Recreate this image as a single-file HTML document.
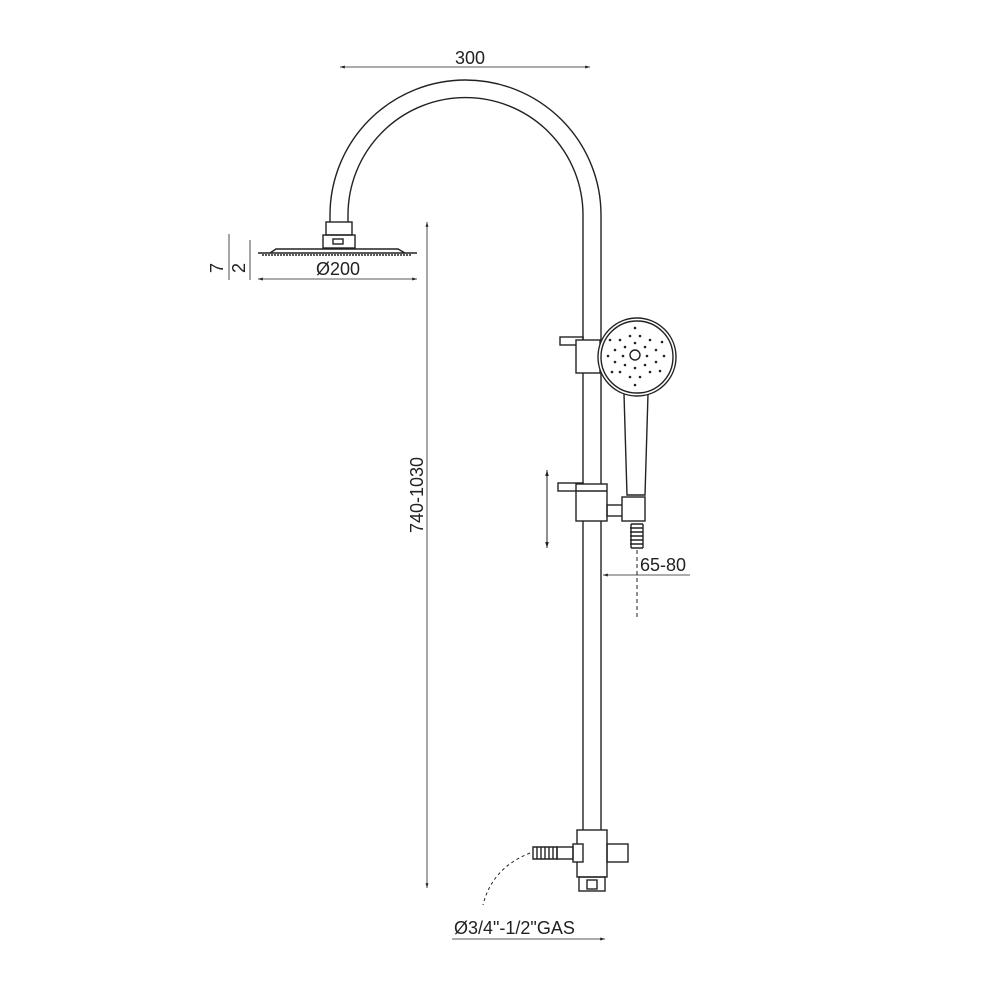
<!DOCTYPE html>
<html><head><style>body{margin:0;background:#fff}svg{display:block}text{font-family:"Liberation Sans",sans-serif;fill:#222}</style></head><body>
<svg width="990" height="990" viewBox="0 0 990 990" fill="none" stroke="#222" stroke-width="1.4">
<defs><marker id="a" viewBox="0 0 10 10" refX="10" refY="5" markerWidth="8" markerHeight="6" orient="auto-start-reverse"><path d="M0,2L10,5L0,8" fill="#222" stroke="none"/></marker></defs>
<path d="M330,222 V215 A135.5,135 0 0 1 601,215 V830"/>
<path d="M348,222 V215 A117.5,117.5 0 0 1 583,215 V830"/>
<rect x="326" y="222" width="26" height="13"/>
<rect x="323" y="235" width="32" height="13"/>
<rect x="333" y="239" width="10" height="5"/>
<path d="M258,253 H417 M270,253 L276,249 H398 L405,253"/>
<path d="M262,255 H412" stroke-dasharray="2 1" stroke-width="1.5"/>
<path d="M340,67 H590" marker-start="url(#a)" marker-end="url(#a)" stroke-width="0.8"/>
<text x="470" y="64" font-size="18" text-anchor="middle" stroke="none">300</text>
<path d="M258,279 H417" marker-start="url(#a)" marker-end="url(#a)" stroke-width="0.8"/>
<text x="338" y="275" font-size="18" text-anchor="middle" stroke="none">Ø200</text>
<path d="M229,234 V280 M250,240 V280" stroke-width="0.8"/>
<text transform="translate(223,268) rotate(-90)" font-size="18" text-anchor="middle" stroke="none">7</text>
<text transform="translate(245,268) rotate(-90)" font-size="18" text-anchor="middle" stroke="none">2</text>
<path d="M427,222 V888" marker-start="url(#a)" marker-end="url(#a)" stroke-width="0.8"/>
<text transform="translate(423,495) rotate(-90)" font-size="18" text-anchor="middle" stroke="none">740-1030</text>
<rect x="560" y="337" width="23" height="8"/>
<rect x="576" y="340" width="24" height="33" fill="#fff"/>
<circle cx="637" cy="357" r="39" fill="#fff"/>
<circle cx="637" cy="357" r="36"/>
<circle cx="635" cy="355" r="5"/>
<g fill="#222" stroke="none">
<circle cx="620" cy="340" r="1.3"/><circle cx="630" cy="336" r="1.3"/><circle cx="640" cy="336" r="1.3"/><circle cx="650" cy="340" r="1.3"/><circle cx="656" cy="350" r="1.3"/><circle cx="656" cy="362" r="1.3"/><circle cx="650" cy="372" r="1.3"/><circle cx="640" cy="377" r="1.3"/><circle cx="630" cy="377" r="1.3"/><circle cx="620" cy="372" r="1.3"/><circle cx="615" cy="362" r="1.3"/><circle cx="615" cy="350" r="1.3"/>
<circle cx="625" cy="347" r="1.3"/><circle cx="645" cy="347" r="1.3"/><circle cx="645" cy="365" r="1.3"/><circle cx="625" cy="365" r="1.3"/><circle cx="635" cy="343" r="1.3"/><circle cx="635" cy="368" r="1.3"/><circle cx="647" cy="356" r="1.3"/><circle cx="623" cy="356" r="1.3"/>
<circle cx="610" cy="340" r="1.3"/><circle cx="662" cy="342" r="1.3"/><circle cx="664" cy="356" r="1.3"/><circle cx="608" cy="356" r="1.3"/><circle cx="612" cy="372" r="1.3"/><circle cx="660" cy="371" r="1.3"/><circle cx="635" cy="328" r="1.3"/><circle cx="635" cy="385" r="1.3"/>
</g>
<path d="M624,394 L627,495 H645 L648,394"/>
<rect x="558" y="483" width="25" height="8"/>
<rect x="576" y="484" width="31" height="37" fill="#fff"/>
<path d="M576,491 H607"/>
<rect x="607" y="505" width="16" height="11"/>
<rect x="622" y="497" width="23" height="24" fill="#fff"/>
<path d="M631,524 h12 M630,528 h13 M630,532 h13 M630,536 h13 M630,540 h13 M630,544 h13 M631,548 h12 M631,524 V548 M643,524 V548"/>
<path d="M637,550 V620" stroke-dasharray="4 3" stroke-width="1"/>
<path d="M603,575 H690" marker-start="url(#a)" stroke-width="0.8"/>
<text x="640" y="571" font-size="18" stroke="none">65-80</text>
<path d="M547,470 V548" marker-start="url(#a)" marker-end="url(#a)" stroke-width="1"/>
<rect x="577" y="830" width="30" height="47" fill="#fff"/>
<rect x="607" y="844" width="21" height="18"/>
<rect x="573" y="844" width="10" height="18" fill="#fff"/>
<rect x="557" y="847" width="16" height="12"/>
<path d="M533,847 h24 v12 h-24z M537,847 v12 M541,847 v12 M545,847 v12 M549,847 v12 M553,847 v12"/>
<rect x="579" y="877" width="26" height="14"/>
<rect x="587" y="880" width="10" height="9"/>
<path d="M530,853 Q492,868 483,905" stroke-dasharray="3 3" stroke-width="1"/>
<text x="454" y="934" font-size="18" stroke="none">Ø3/4"-1/2"GAS</text>
<path d="M452,939 H605" marker-end="url(#a)" stroke-width="0.8"/>
</svg>
</body></html>
